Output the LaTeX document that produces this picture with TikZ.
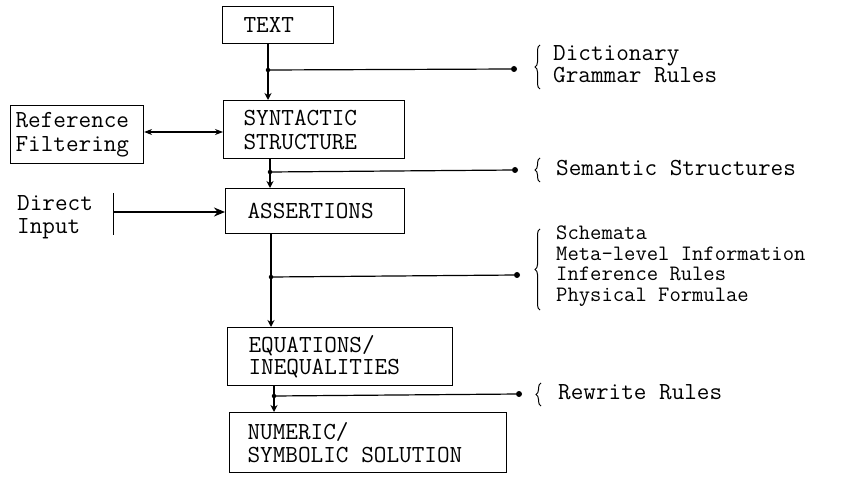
\documentclass[tikz,border=0pt]{standalone}
\usepackage{fontspec}
\usetikzlibrary{arrows.meta,decorations.pathreplacing}
\begin{document}
\begin{tikzpicture}[x=1pt,y=-1pt,
  every node/.style={font=\ttfamily\fontsize{24.5}{22.5}\selectfont},
  boxnode/.style={draw,line width=1.1pt,rectangle,anchor=north west,align=left,inner ysep=0pt},
  lbl/.style={anchor=west,align=left,inner sep=0pt},
  trunk/.style={line width=1.2pt,-{Stealth[length=7pt,width=7pt]}},
  feed/.style={line width=1.2pt},
  jdot/.style={circle,fill,inner sep=0pt,minimum size=4.5pt},
  edot/.style={circle,fill,inner sep=0pt,minimum size=6pt},
  brc/.style={line width=1pt,decorate,decoration={brace,amplitude=5pt}}
]
\useasboundingbox (0,0) rectangle (849,478);

% boxes
\node[boxnode,minimum width=111pt,minimum height=37pt,inner xsep=21pt,text width=69pt] (text) at (222,6) {TEXT};
\node[boxnode,minimum width=181pt,minimum height=58pt,inner xsep=20pt,text width=141pt,font=\ttfamily\fontsize{24.5}{24}\selectfont] (syn) at (223,100) {SYNTACTIC\\STRUCTURE};
\node[boxnode,minimum width=133pt,minimum height=58pt,inner xsep=5pt,text width=123pt,font=\ttfamily\fontsize{24.5}{24}\selectfont] (ref) at (10,105) {Reference\\Filtering};
\node[boxnode,minimum width=179pt,minimum height=45pt,inner xsep=22pt,text width=135pt] (ass) at (225,188) {ASSERTIONS};
\node[boxnode,minimum width=225pt,minimum height=58pt,inner xsep=21pt,text width=183pt] (eq) at (227,327) {EQUATIONS/\\INEQUALITIES};
\node[boxnode,minimum width=277pt,minimum height=60pt,inner xsep=18pt,text width=241pt] (num) at (229,412) {NUMERIC/\\SYMBOLIC\hspace{0.525em}SOLUTION};

% direct input
\node[lbl] (di) at (17,217) {Direct\\Input};
\coordinate (bartop) at (113,193);
\coordinate (barbot) at (113,235);
\coordinate (barmid) at (113,212);
\draw[line width=1pt] (bartop) -- (barbot);
\draw[line width=2pt,-{Stealth[length=11pt,width=9pt]}] (barmid) -- (barmid -| ass.west);

% reference filtering double arrow
\draw[line width=1.2pt,{Stealth[length=8pt,width=6pt]}-{Stealth[length=8pt,width=6pt]}] (ref.east |- 0,132) -- (syn.west |- 0,132);

% junction 1
\coordinate (j1) at (268,70);
\node[edot] (e1) at (514,69) {};
\draw[trunk] (j1 |- text.south) -- (j1 |- syn.north);
\node[jdot] at (j1) {};
\draw[feed] (j1) -- (e1);
\draw[brc] (540,89) -- (540,45);
\node[lbl] (k1) at (553,64) {Dictionary\\Grammar Rules};

% junction 2
\coordinate (j2) at (270,172);
\node[edot] (e2) at (515,170) {};
\draw[trunk] (j2 |- syn.south) -- (j2 |- ass.north);
\node[jdot] at (j2) {};
\draw[feed] (j2) -- (e2);
\draw[brc] (540,182) -- (540,158);
\node[lbl] (k2) at (556,168) {Semantic Structures};

% junction 3
\coordinate (j3) at (271,277);
\node[edot] (e3) at (517,275) {};
\draw[trunk] (j3 |- ass.south) -- (j3 |- eq.north);
\node[jdot] at (j3) {};
\draw[feed] (j3) -- (e3);
\draw[brc] (540,310) -- (540,229);
\node[lbl,font=\ttfamily\fontsize{22}{20.5}\selectfont] (k3) at (556,266) {Schemata\\Meta-level Information\\Inference Rules\\Physical Formulae};

% junction 4
\coordinate (j4) at (274,396);
\node[edot] (e4) at (519,394) {};
\draw[trunk] (j4 |- eq.south) -- (j4 |- num.north);
\node[jdot] at (j4) {};
\draw[feed] (j4) -- (e4);
\draw[brc] (541,406) -- (541,383);
\node[lbl] (k4) at (558,392) {Rewrite Rules};
\end{tikzpicture}
\end{document}
